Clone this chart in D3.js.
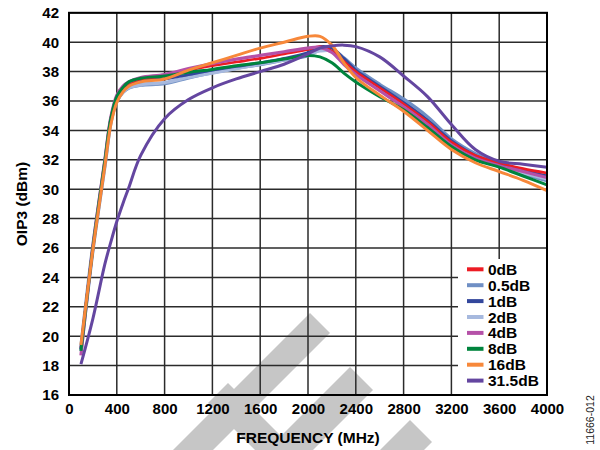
<!DOCTYPE html>
<html><head><meta charset="utf-8">
<script src="https://cdn.jsdelivr.net/npm/d3@7/dist/d3.min.js"></script>
<style>body{margin:0;background:#fff}svg{display:block}text{font-family:"Liberation Sans",Arial,sans-serif}</style>
</head><body><svg id="c" width="600" height="450"></svg>
<script>
const freqs = [100,200,300,350,400,450,500,600,800,1000,1200,1400,1600,1800,2000,2100,2200,2300,2400,2600,2800,3000,3200,3400,3600,3800,4000];
const seriesNames = ["0dB","0.5dB","1dB","2dB","4dB","8dB","16dB","31.5dB"];
const seriesColors = ["#ed1c24","#6f8fc4","#33479c","#a7b9de","#b551a8","#00843d","#f7883a","#6446a0"];
const s0dB   = [19.2,26.0,31.8,34.8,36.3,36.9,37.2,37.5,37.7,38.1,38.4,38.65,38.9,39.2,39.5,39.7,39.4,38.7,38.0,36.9,35.8,34.6,33.2,32.3,31.8,31.4,31.1];
const s05dB  = [19.1,26.0,31.7,34.6,36.0,36.6,36.9,37.1,37.2,37.6,37.95,38.25,38.5,38.8,39.1,39.5,39.5,38.9,38.2,37.1,36.1,34.9,33.4,32.4,31.7,31.1,30.6];
const s1dB   = [19.1,26.0,31.8,34.7,36.2,36.8,37.1,37.4,37.5,37.8,38.1,38.35,38.6,38.9,39.3,39.7,39.6,38.9,38.1,37.0,35.9,34.7,33.3,32.3,31.7,31.3,30.9];
const s2dB   = [19.0,25.9,31.7,34.6,36.0,36.6,36.9,37.1,37.25,37.6,37.9,38.2,38.5,38.8,39.15,39.4,39.4,38.7,37.9,36.9,35.9,34.7,33.2,32.2,31.6,31.1,30.7];
const s4dB   = [18.7,26.1,32.0,34.9,36.4,37.0,37.3,37.6,37.8,38.2,38.55,38.85,39.1,39.35,39.6,39.65,39.3,38.5,37.8,36.7,35.6,34.4,33.0,32.1,31.6,31.2,30.8];
const s8dB   = [19.0,26.0,31.9,34.8,36.3,36.9,37.3,37.55,37.7,37.95,38.15,38.4,38.6,38.85,39.1,39.0,38.6,37.9,37.3,36.3,35.4,34.2,32.9,32.0,31.5,30.9,30.3];
const s16dB  = [19.4,25.9,31.6,34.4,35.9,36.6,37.0,37.3,37.5,38.1,38.6,39.1,39.6,40.0,40.4,40.4,39.8,38.6,37.6,36.4,35.3,34.0,32.7,31.8,31.2,30.6,29.9];
const s315dB = [18.1,21.2,24.9,26.4,27.8,29.0,30.1,32.3,34.8,36.1,36.9,37.5,38.0,38.5,39.2,39.6,39.75,39.8,39.7,39.0,37.7,36.3,34.4,32.7,31.9,31.7,31.5];
const seriesValues = [s0dB,s05dB,s1dB,s2dB,s4dB,s8dB,s16dB,s315dB];
const xTicks = [0,400,800,1200,1600,2000,2400,2800,3200,3600,4000];
const yTicks = [16,18,20,22,24,26,28,30,32,34,36,38,40,42];
const xTitle = "FREQUENCY (MHz)", yTitle = "OIP3 (dBm)", figId = "11666-012";

const svg = d3.select("#c");
const L=69,R=547,T=12.8,B=395;
const x = d3.scaleLinear().domain([0,4000]).range([L,R]);
const y = d3.scaleLinear().domain([16,42]).range([B,T]);

// watermark (decorative)
const wm = svg.append("g").attr("fill","#c6c6c6");
[[[310,313],[330,333],[213,450],[173,450]],
 [[350,367],[373,390],[313,450],[267,450]],
 [[410,420],[432,442],[424,450],[380,450]],
 [[228,383],[208,403],[255,450],[295,450]]].forEach(p=>wm.append("polygon").attr("points",p.map(d=>d.join(",")).join(" ")));

// grid
const g = svg.append("g");
g.selectAll(".vx").data(xTicks).join("line").attr("x1",d=>x(d)).attr("x2",d=>x(d)).attr("y1",T).attr("y2",B).attr("stroke","#2b2b2b").attr("stroke-width",1.5);
g.selectAll(".hy").data(yTicks).join("line").attr("y1",d=>y(d)).attr("y2",d=>y(d)).attr("x1",L).attr("x2",R).attr("stroke","#2b2b2b").attr("stroke-width",1.5);

// lines
const line = d3.line().x(d=>x(d[0])).y(d=>y(d[1])).curve(d3.curveCatmullRom.alpha(0.5));
const order = [1,3,2,0,4,5,6,7];
const widths = [2.6,4,2.8,3.2,3.2,3,3,3];
order.forEach(i=>{
  svg.append("path").datum(freqs.map((f,k)=>[f,seriesValues[i][k]])).attr("d",line)
   .attr("fill","none").attr("stroke",seriesColors[i]).attr("stroke-width",widths[i]).attr("stroke-linejoin","round");
});

// frame
svg.append("rect").attr("x",L).attr("y",T).attr("width",R-L).attr("height",B-T).attr("fill","none").attr("stroke","#000").attr("stroke-width",2);

// axes labels
const xa = d3.axisBottom(x).tickValues(xTicks).tickSize(0).tickPadding(8).tickFormat(d3.format("d"));
const xg = svg.append("g").attr("transform",`translate(0,${B})`).call(xa);
xg.select(".domain").remove();
xg.selectAll("text").attr("font-size","15px").attr("font-weight","bold").attr("fill","#000").attr("font-family","Liberation Sans, Arial");
const ya = d3.axisLeft(y).tickValues(yTicks).tickSize(0).tickPadding(10);
const yg = svg.append("g").attr("transform",`translate(${L},0)`).call(ya);
yg.select(".domain").remove();
yg.selectAll("text").attr("font-size","15px").attr("font-weight","bold").attr("fill","#000").attr("font-family","Liberation Sans, Arial");

svg.append("text").attr("x",(L+R)/2).attr("y",443).attr("text-anchor","middle").attr("font-size","15.5px").attr("font-weight","bold").text(xTitle);
svg.append("text").attr("transform","translate(27,204) rotate(-90)").attr("text-anchor","middle").attr("font-size","15.5px").attr("font-weight","bold").text(yTitle);
svg.append("text").attr("transform","translate(594,420) rotate(-90)").attr("text-anchor","middle").attr("font-size","10.5px").attr("fill","#222").text(figId);

// legend
const lg = svg.append("g");
lg.append("rect").attr("x",458).attr("y",259).attr("width",88).attr("height",135).attr("fill","#fff");
seriesNames.forEach((n,i)=>{
  const yy = 269.3 + i*15.9;
  lg.append("line").attr("x1",467).attr("x2",483.5).attr("y1",yy).attr("y2",yy).attr("stroke",seriesColors[i]).attr("stroke-width",4);
  lg.append("text").attr("x",488).attr("y",yy).attr("dy","0.36em").attr("font-size","15.5px").attr("font-weight","bold").text(n);
});
</script></body></html>
